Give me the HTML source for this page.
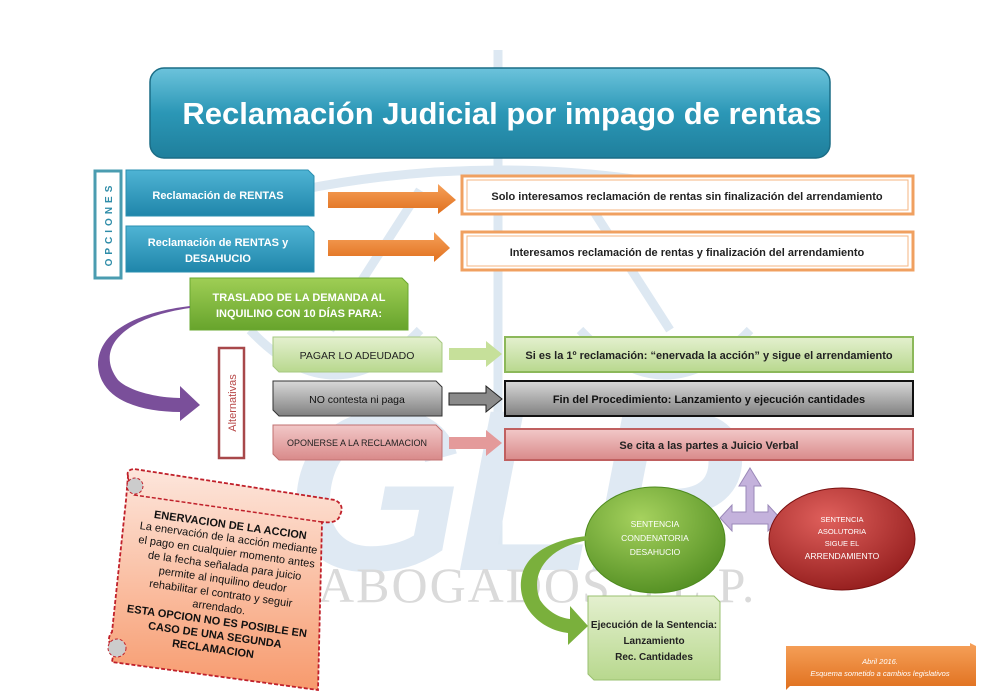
<!DOCTYPE html>
<html><head><meta charset="utf-8"><style>
html,body{margin:0;padding:0;background:#fff;}
svg{display:block;font-family:"Liberation Sans",sans-serif;}
</style></head><body>
<svg width="990" height="700" viewBox="0 0 990 700" xmlns="http://www.w3.org/2000/svg">
<defs>
<linearGradient id="gT" x1="0" y1="0" x2="0" y2="1"><stop offset="0" stop-color="#6cc3dc"/><stop offset="0.5" stop-color="#2b97b6"/><stop offset="1" stop-color="#1f7f9c"/></linearGradient>
<linearGradient id="gB" x1="0" y1="0" x2="0" y2="1"><stop offset="0" stop-color="#4fb4d4"/><stop offset="1" stop-color="#1f86aa"/></linearGradient>
<linearGradient id="gG" x1="0" y1="0" x2="0" y2="1"><stop offset="0" stop-color="#9fce55"/><stop offset="1" stop-color="#67a42c"/></linearGradient>
<linearGradient id="gLG" x1="0" y1="0" x2="0" y2="1"><stop offset="0" stop-color="#e4f0cf"/><stop offset="1" stop-color="#b8d88e"/></linearGradient>
<linearGradient id="gGr" x1="0" y1="0" x2="0" y2="1"><stop offset="0" stop-color="#d8d8d8"/><stop offset="1" stop-color="#808080"/></linearGradient>
<linearGradient id="gR" x1="0" y1="0" x2="0" y2="1"><stop offset="0" stop-color="#f2c8c8"/><stop offset="1" stop-color="#d98a8a"/></linearGradient>
<linearGradient id="gO" x1="0" y1="0" x2="0" y2="1"><stop offset="0" stop-color="#f6a15a"/><stop offset="1" stop-color="#e0701e"/></linearGradient>
<radialGradient id="cG" cx="0.4" cy="0.3" r="0.8"><stop offset="0" stop-color="#a6d25e"/><stop offset="1" stop-color="#4d8a1e"/></radialGradient>
<radialGradient id="cR" cx="0.4" cy="0.3" r="0.8"><stop offset="0" stop-color="#e0605c"/><stop offset="1" stop-color="#8e1818"/></radialGradient>
<linearGradient id="gS" x1="0" y1="0" x2="0" y2="1"><stop offset="0" stop-color="#fde6dc"/><stop offset="1" stop-color="#f79a6d"/></linearGradient>
</defs>

<!-- watermark -->
<g fill="none" stroke="#dde8f2" stroke-width="9">
<line x1="498" y1="50" x2="498" y2="560"/>
<path d="M300 190 Q500 150 700 190"/>
<path d="M250 330 Q335 420 420 330"/>
<path d="M580 330 Q665 420 750 330"/>
<line x1="420" y1="190" x2="330" y2="330"/><line x1="580" y1="190" x2="670" y2="330"/>
</g>
<text x="285" y="570" font-size="230" font-style="italic" font-weight="bold" fill="#dfe9f3" letter-spacing="-8">GLP</text>
<text x="318" y="602" font-family="Liberation Serif,serif" font-size="50" fill="#dadada" letter-spacing="2">ABOGADOS S.L.P.</text>

<!-- title -->
<rect x="150" y="68" width="680" height="90" rx="14" fill="url(#gT)" stroke="#1b6d86" stroke-width="1.5"/>
<text x="502" y="124" font-size="31" font-weight="bold" fill="#fff" text-anchor="middle">Reclamación Judicial por impago de rentas</text>

<!-- opciones -->
<rect x="95" y="171" width="26" height="107" fill="#fff" stroke="#4a9cb0" stroke-width="3"/>
<text transform="translate(112,224) rotate(-90)" font-size="10" font-weight="bold" fill="#2e8ca8" text-anchor="middle" letter-spacing="4">OPCIONES</text>
<path d="M126 170 H308 L314 176 V216 H126 Z" fill="url(#gB)" stroke="#2a8fb0"/>
<text x="218" y="199" font-size="11" font-weight="bold" fill="#fff" text-anchor="middle">Reclamación de RENTAS</text>
<path d="M126 226 H308 L314 232 V272 H126 Z" fill="url(#gB)" stroke="#2a8fb0"/>
<text x="218" y="246" font-size="11" font-weight="bold" fill="#fff" text-anchor="middle">Reclamación de RENTAS y</text>
<text x="218" y="262" font-size="11" font-weight="bold" fill="#fff" text-anchor="middle">DESAHUCIO</text>

<path d="M328 192 H438 V184 L456 200 L438 214 V208 H328 Z" fill="url(#gO)"/>
<path d="M328 240 H434 V232 L450 248 L434 262 V256 H328 Z" fill="url(#gO)"/>

<rect x="462" y="176" width="451" height="38" fill="#fff" stroke="#f0a060" stroke-width="3"/>
<rect x="467" y="180" width="441" height="30" fill="none" stroke="#f4b582" stroke-width="1"/>
<text x="687" y="200" font-size="11" font-weight="bold" fill="#222" text-anchor="middle">Solo interesamos reclamación de rentas sin finalización del arrendamiento</text>
<rect x="462" y="232" width="451" height="38" fill="#fff" stroke="#f0a060" stroke-width="3"/>
<rect x="467" y="236" width="441" height="30" fill="none" stroke="#f4b582" stroke-width="1"/>
<text x="687" y="256" font-size="11" font-weight="bold" fill="#222" text-anchor="middle">Interesamos reclamación de rentas y finalización del arrendamiento</text>

<!-- traslado -->
<path d="M190 278 H402 L408 284 V330 H190 Z" fill="url(#gG)" stroke="#6aa830"/>
<text x="299" y="301" font-size="11" font-weight="bold" fill="#fff" text-anchor="middle">TRASLADO DE LA DEMANDA AL</text>
<text x="299" y="317" font-size="11" font-weight="bold" fill="#fff" text-anchor="middle">INQUILINO CON 10 DÍAS PARA:</text>

<!-- purple curve -->
<path d="M190 308 C120 318 95 350 118 380 C130 392 160 398 180 398 L180 386 L200 405 L180 421 L180 412 C140 412 100 400 98 365 C98 330 140 312 190 306 Z" fill="#7a4f9a"/>

<!-- alternativas -->
<rect x="219" y="348" width="25" height="110" fill="#fff" stroke="#a8484a" stroke-width="2.5"/>
<text transform="translate(236,403) rotate(-90)" font-size="11" fill="#b84848" text-anchor="middle">Alternativas</text>

<path d="M273 337 H436 L442 343 V372 H279 L273 366 Z" fill="url(#gLG)" stroke="#a6c880"/>
<text x="357" y="359" font-size="10.5" fill="#222" text-anchor="middle">PAGAR LO ADEUDADO</text>
<path d="M273 381 H436 L442 387 V416 H279 L273 410 Z" fill="url(#gGr)" stroke="#333"/>
<text x="357" y="403" font-size="10.5" fill="#111" text-anchor="middle">NO contesta ni paga</text>
<path d="M273 425 H436 L442 431 V460 H279 L273 454 Z" fill="url(#gR)" stroke="#c07070"/>
<text x="357" y="446" font-size="9" fill="#222" text-anchor="middle">OPONERSE A  LA RECLAMACION</text>

<path d="M449 348 H486 V341 L502 354 L486 367 V360 H449 Z" fill="#c6e09a"/>
<path d="M449 393 H486 V386 L502 399 L486 412 V405 H449 Z" fill="#8a8a8a" stroke="#222"/>
<path d="M449 437 H486 V430 L502 443 L486 456 V449 H449 Z" fill="#e49a9a"/>

<rect x="505" y="337" width="408" height="35" fill="url(#gLG)" stroke="#8cb85a" stroke-width="2"/>
<text x="709" y="359" font-size="11" font-weight="bold" fill="#222" text-anchor="middle">Si es la 1º reclamación: “enervada la acción” y sigue el arrendamiento</text>
<rect x="505" y="381" width="408" height="35" fill="url(#gGr)" stroke="#111" stroke-width="2"/>
<text x="709" y="403" font-size="11" font-weight="bold" fill="#111" text-anchor="middle">Fin del Procedimiento: Lanzamiento y ejecución cantidades</text>
<rect x="505" y="429" width="408" height="31" fill="url(#gR)" stroke="#c06060" stroke-width="2"/>
<text x="709" y="449" font-size="11" font-weight="bold" fill="#222" text-anchor="middle">Se cita a las partes a Juicio Verbal</text>

<!-- double arrow -->
<path d="M750 468 L761 486 H754 V512 H768 L768 505 L780 518 L768 531 V524 H732 V531 L720 518 L732 505 V512 H746 V486 H739 Z" fill="#c4b2dc" stroke="#9a88b8"/>

<!-- circles -->
<ellipse cx="655" cy="540" rx="70" ry="53" fill="url(#cG)" stroke="#4d8a1e"/>
<text x="655" y="527" font-size="8.5" fill="#fff" text-anchor="middle">SENTENCIA</text>
<text x="655" y="541" font-size="8.5" fill="#fff" text-anchor="middle">CONDENATORIA</text>
<text x="655" y="555" font-size="8.5" fill="#fff" text-anchor="middle">DESAHUCIO</text>
<ellipse cx="842" cy="539" rx="73" ry="51" fill="url(#cR)" stroke="#7a1010"/>
<text x="842" y="522" font-size="7.5" fill="#fff" text-anchor="middle">SENTENCIA</text>
<text x="842" y="534" font-size="7.5" fill="#fff" text-anchor="middle">ASOLUTORIA</text>
<text x="842" y="546" font-size="7.5" fill="#fff" text-anchor="middle">SIGUE EL</text>
<text x="842" y="559" font-size="8.5" fill="#fff" text-anchor="middle">ARRENDAMIENTO</text>

<!-- green curve -->
<path d="M588 540 C545 548 530 575 540 600 C548 612 560 618 570 619 L570 606 L588 626 L568 645 L568 633 C540 630 515 605 522 575 C528 550 560 538 588 536 Z" fill="#7ab03c"/>

<!-- ejecucion -->
<path d="M588 596 H714 L720 602 V680 H594 L588 674 Z" fill="url(#gLG)" stroke="#9ac070"/>
<text x="654" y="628" font-size="10" font-weight="bold" fill="#222" text-anchor="middle">Ejecución de la Sentencia:</text>
<text x="654" y="644" font-size="10" font-weight="bold" fill="#222" text-anchor="middle">Lanzamiento</text>
<text x="654" y="660" font-size="10" font-weight="bold" fill="#222" text-anchor="middle">Rec. Cantidades</text>

<!-- scroll -->
<path d="M128 476 Q126 470 134 469 L335 500 Q345 505 340 515 Q338 524 322 522 L318 690 L112 662 L114 650 Q105 640 112 632 L126 500 Z" fill="url(#gS)" stroke="#c0202a" stroke-width="1.8" stroke-dasharray="4 2"/>
<path d="M128 478 L134 495 L322 522" fill="none" stroke="#c0202a" stroke-width="1.5" stroke-dasharray="4 2"/>
<circle cx="135" cy="486" r="8" fill="#ccc" stroke="#c0202a" stroke-dasharray="3 2"/>
<circle cx="117" cy="648" r="9" fill="#ccc" stroke="#c0202a" stroke-dasharray="3 2"/>
<g transform="rotate(8 222 585)" font-size="11" fill="#111" text-anchor="middle">
<text x="222" y="528" font-weight="bold">ENERVACION DE LA ACCION</text>
<text x="222" y="541">La enervación de la acción mediante</text>
<text x="222" y="555">el pago en cualquier momento antes</text>
<text x="222" y="569">de la fecha señalada para juicio</text>
<text x="222" y="583">permite al inquilino deudor</text>
<text x="222" y="597">rehabilitar el contrato y seguir</text>
<text x="222" y="611">arrendado.</text>
<text x="222" y="625" font-weight="bold">ESTA OPCION NO ES POSIBLE EN</text>
<text x="222" y="639" font-weight="bold">CASO DE UNA SEGUNDA</text>
<text x="222" y="653" font-weight="bold">RECLAMACION</text>
</g>

<!-- note -->
<path d="M786 646 H970 V643 L976 646 V686 H790 L786 690 Z" fill="url(#gO)"/>
<text x="880" y="664" font-size="7.5" font-style="italic" fill="#fff" text-anchor="middle">Abril 2016.</text>
<text x="880" y="676" font-size="7.5" font-style="italic" fill="#fff" text-anchor="middle">Esquema sometido a cambios legislativos</text>
</svg>
</body></html>
